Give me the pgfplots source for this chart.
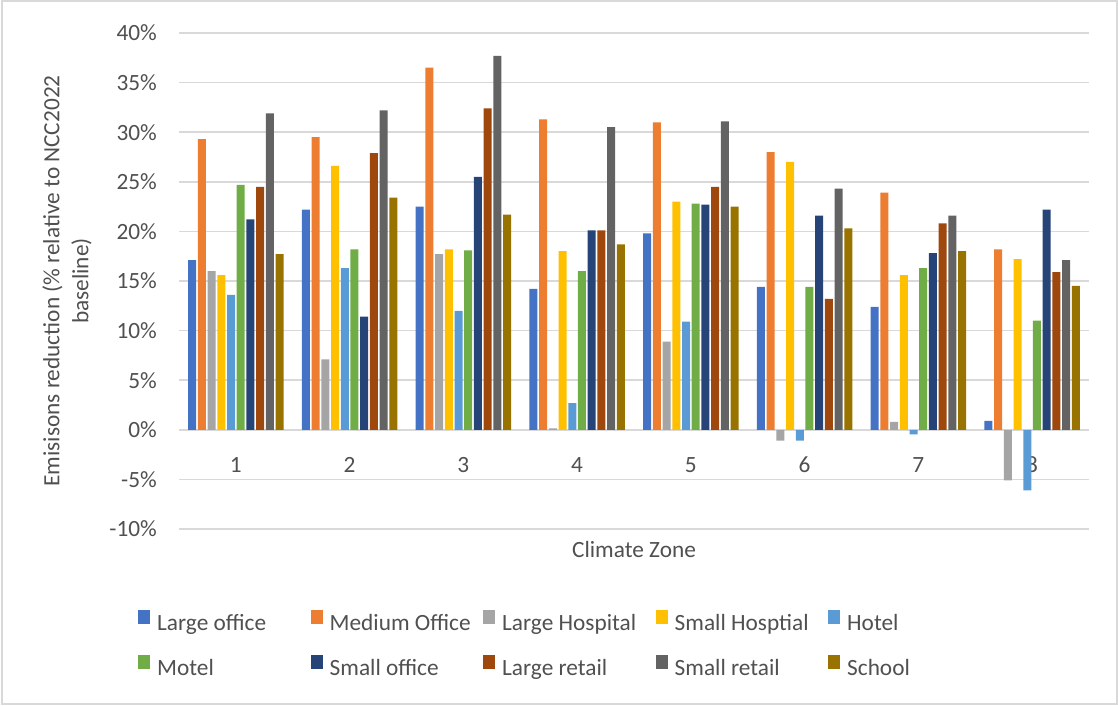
\documentclass[border=0pt]{standalone}
\usepackage{fontspec}
\setmainfont{Carlito}
\usepackage{pgfplots}
\usepackage{pgfplotstable}
\pgfplotsset{compat=1.18}
\definecolor{c1}{HTML}{4472C4}
\definecolor{c2}{HTML}{ED7D31}
\definecolor{c3}{HTML}{A5A5A5}
\definecolor{c4}{HTML}{FFC000}
\definecolor{c5}{HTML}{5B9BD5}
\definecolor{c6}{HTML}{70AD47}
\definecolor{c7}{HTML}{264478}
\definecolor{c8}{HTML}{9E480E}
\definecolor{c9}{HTML}{636363}
\definecolor{c10}{HTML}{997300}
\definecolor{gridc}{HTML}{D9D9D9}
\definecolor{txt}{HTML}{505050}
\newcommand\lbl[1]{\makebox[153.5pt][l]{#1}}
\newcommand\bigf{\fontsize{23.3}{29}\selectfont}
\pgfplotstableread{
zone LO MO LH SH HO MT SO LR SR SC
1 17.1 29.3 16.0 15.6 13.6 24.7 21.2 24.5 31.9 17.7
2 22.2 29.5 7.1 26.6 16.3 18.2 11.4 27.9 32.2 23.4
3 22.5 36.5 17.7 18.2 12.0 18.1 25.5 32.4 37.7 21.7
4 14.2 31.3 0.15 18.0 2.7 16.0 20.1 20.1 30.5 18.7
5 19.8 31.0 8.9 23.0 10.9 22.8 22.7 24.5 31.1 22.5
6 14.4 28.0 -1.1 27.0 -1.1 14.4 21.6 13.2 24.3 20.3
7 12.4 23.9 0.8 15.6 -0.45 16.3 17.8 20.8 21.6 18.0
8 0.9 18.2 -5.1 17.2 -6.1 11.0 22.2 15.9 17.1 14.5
}\data
\begin{document}
\begin{tikzpicture}[x=1pt,y=1pt]
\useasboundingbox (0,0) rectangle (1118,705);
\draw[gridc, line width=2pt] (1.5,1.5) rectangle (1116.5,703.5);
\begin{axis}[
  at={(179pt,176pt)}, anchor=south west,
  scale only axis, width=910pt, height=496pt,
  xmin=0.5, xmax=8.5, ymin=-10, ymax=40,
  xtick={1,...,8}, xticklabels={1,2,3,4,5,6,7,8},
  ytick={-10,-5,...,40},
  yticklabels={-10\%,-5\%,0\%,5\%,10\%,15\%,20\%,25\%,30\%,35\%,40\%},
  ybar=1.7pt, bar width=8pt,
  axis line style={draw=none},
  major tick length=0pt,
  ymajorgrids, grid style={gridc, line width=1.5pt},
  tick label style={font=\bigf, text=txt},
  yticklabel style={inner sep=0pt, anchor=east, xshift=-22pt},
  xticklabel style={anchor=center, yshift=64pt},
  every axis x label/.style={at={(axis description cs:0.5,-0.042)}, anchor=center, font=\bigf, text=txt},
  every axis y label/.style={at={(axis description cs:-0.123,0.5)}, anchor=center, rotate=90, align=center, font=\bigf, text=txt},
  xlabel={Climate Zone},
  ylabel={Emisisons reduction (\% relative to NCC2022\\baseline)},
  legend columns=5,
  legend style={at={(axis description cs:-0.04505,-0.1633)}, anchor=north west,
    draw=none, fill=none, inner sep=0pt, row sep=20pt,
    font=\bigf, text=txt,
    nodes={inner sep=0pt, text height=17pt, text depth=5pt},
    /tikz/every odd column/.append style={column sep=7pt},
    /tikz/every even column/.append style={column sep=0pt}},
  legend image code/.code={\fill[#1] (0pt,0pt) rectangle (12pt,14pt);},
]
\addplot[fill=c1, draw=none] table[x=zone, y=LO] {\data}; \addlegendentry{\lbl{Large office}}
\addplot[fill=c2, draw=none] table[x=zone, y=MO] {\data}; \addlegendentry{\lbl{Medium Office}}
\addplot[fill=c3, draw=none] table[x=zone, y=LH] {\data}; \addlegendentry{\lbl{Large Hospital}}
\addplot[fill=c4, draw=none] table[x=zone, y=SH] {\data}; \addlegendentry{\lbl{Small Hosptial}}
\addplot[fill=c5, draw=none] table[x=zone, y=HO] {\data}; \addlegendentry{\lbl{Hotel}}
\addplot[fill=c6, draw=none] table[x=zone, y=MT] {\data}; \addlegendentry{\lbl{Motel}}
\addplot[fill=c7, draw=none] table[x=zone, y=SO] {\data}; \addlegendentry{\lbl{Small office}}
\addplot[fill=c8, draw=none] table[x=zone, y=LR] {\data}; \addlegendentry{\lbl{Large retail}}
\addplot[fill=c9, draw=none] table[x=zone, y=SR] {\data}; \addlegendentry{\lbl{Small retail}}
\addplot[fill=c10, draw=none] table[x=zone, y=SC] {\data}; \addlegendentry{\lbl{School}}
\end{axis}
\end{tikzpicture}
\end{document}
